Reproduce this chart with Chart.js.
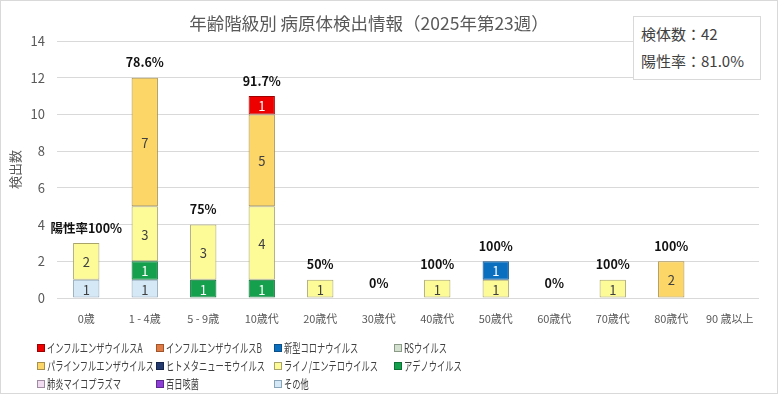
<!DOCTYPE html>
<html lang="ja">
<head>
<meta charset="utf-8">
<script src="https://cdn.jsdelivr.net/npm/chart.js@4"></script>
<style>
  body { margin: 0; background: #fff; }
  #wrap {
    position: relative; width: 776px; height: 392px;
    border: 1px solid #d9d9d9; background: #fff;
    font-family: "Noto Sans CJK JP", "Noto Sans", sans-serif;
  }
  #chart { position: absolute; left: -1px; top: -1px; }
  #title {
    position: absolute; left: 0; width: 736px; top: 9px;
    text-align: center; font-size: 17.5px; color: #595959; white-space: nowrap;
  }
  #info {
    position: absolute; left: 632px; top: 15px; width: 126px; height: 62px;
    border: 1px solid #d9d9d9; color: #404040; font-size: 15px; background: #fff;
  }
  #info div { position: absolute; left: 7px; white-space: nowrap; }
  #legend { position: absolute; left: 0; top: 337px; width: 776px; }
  .item {
    position: absolute; display: flex; align-items: center; white-space: nowrap;
    font-size: 12.5px; color: #404040;
  }
  .item span.txt { display: inline-block; transform: scaleX(0.66); transform-origin: left center; }
  .box { width: 6px; height: 6px; border: 1px solid #7f7f7f; margin-right: 2px; }
</style>
</head>
<body>
<div id="wrap">
  <canvas id="chart" width="778" height="394"></canvas>
  <div id="title">年齢階級別 病原体検出情報（2025年第23週）</div>
  <div id="info"><div style="top:6px">検体数：42</div><div style="top:33px">陽性率：81.0%</div></div>
  <div id="legend"></div>
</div>
<script>
const categories = ['0歳', '1 - 4歳', '5 - 9歳', '10歳代', '20歳代', '30歳代', '40歳代', '50歳代', '60歳代', '70歳代', '80歳代', '90 歳以上'];
const yTicks = [0, 2, 4, 6, 8, 10, 12, 14];
const positiveLabels = ['陽性率100%', '78.6%', '75%', '91.7%', '50%', '0%', '100%', '100%', '0%', '100%', '100%', ''];

// series in legend order
const fluA      = [0, 0, 0, 1, 0, 0, 0, 0, 0, 0, 0, 0];
const fluB      = [0, 0, 0, 0, 0, 0, 0, 0, 0, 0, 0, 0];
const covid     = [0, 0, 0, 0, 0, 0, 0, 1, 0, 0, 0, 0];
const rsv       = [0, 0, 0, 0, 0, 0, 0, 0, 0, 0, 0, 0];
const parainflu = [0, 7, 0, 5, 0, 0, 0, 0, 0, 0, 2, 0];
const hmpv      = [0, 0, 0, 0, 0, 0, 0, 0, 0, 0, 0, 0];
const rhino     = [2, 3, 3, 4, 1, 0, 1, 1, 0, 1, 0, 0];
const adeno     = [0, 1, 1, 1, 0, 0, 0, 0, 0, 0, 0, 0];
const mycoplasma= [0, 0, 0, 0, 0, 0, 0, 0, 0, 0, 0, 0];
const pertussis = [0, 0, 0, 0, 0, 0, 0, 0, 0, 0, 0, 0];
const others    = [1, 1, 0, 0, 0, 0, 0, 0, 0, 0, 0, 0];

const series = [
  { label: 'インフルエンザウイルスA', data: fluA, color: '#ee0000', border: '#a00000', text: '#fff' },
  { label: 'インフルエンザウイルスB', data: fluB, color: '#e07b45', border: '#a0552c', text: '#fff' },
  { label: '新型コロナウイルス', data: covid, color: '#0b6fbf', border: '#0a4f88', text: '#fff' },
  { label: 'RSウイルス', data: rsv, color: '#d3dfcf', border: '#8a9a86', text: '#404040' },
  { label: 'パラインフルエンザウイルス', data: parainflu, color: '#fdd668', border: '#a8904a', text: '#404040' },
  { label: 'ヒトメタニューモウイルス', data: hmpv, color: '#233a6e', border: '#15244a', text: '#fff' },
  { label: 'ライノ/エンテロウイルス', data: rhino, color: '#fdfb98', border: '#a8a46a', text: '#404040' },
  { label: 'アデノウイルス', data: adeno, color: '#14a04c', border: '#0d7035', text: '#fff' },
  { label: '肺炎マイコプラズマ', data: mycoplasma, color: '#f1dcf2', border: '#a08aa2', text: '#404040' },
  { label: '百日咳菌', data: pertussis, color: '#8e3fd6', border: '#5d2890', text: '#fff' },
  { label: 'その他', data: others, color: '#d4e8f6', border: '#8aa4b8', text: '#404040' }
];

// stack bottom-up is the reverse of the legend order
const datasets = series.slice().reverse().map(s => ({
  label: s.label,
  data: s.data.map(v => v === 0 ? null : v),
  backgroundColor: s.color,
  borderColor: s.border,
  borderWidth: 1,
  borderSkipped: false,
  textColor: s.text,
  barPercentage: 0.45,
  categoryPercentage: 1
}));

const labelPlugin = {
  id: 'labels',
  afterDatasetsDraw(chart) {
    const ctx = chart.ctx;
    const y = chart.scales.y;
    ctx.save();
    ctx.textAlign = 'center';
    ctx.textBaseline = 'middle';
    ctx.font = '13px "Noto Sans CJK JP"';
    chart.data.datasets.forEach((ds, i) => {
      const meta = chart.getDatasetMeta(i);
      meta.data.forEach((bar, j) => {
        if (!ds.data[j]) return;
        ctx.fillStyle = ds.textColor;
        ctx.fillText(String(ds.data[j]), bar.x, (bar.y + bar.base) / 2 + 1);
      });
    });
    ctx.font = 'bold 12.5px "Noto Sans CJK JP"';
    ctx.fillStyle = '#111';
    const x = chart.scales.x;
    categories.forEach((c, j) => {
      const total = series.reduce((a, s) => a + s.data[j], 0);
      ctx.fillText(positiveLabels[j], x.getPixelForValue(j), y.getPixelForValue(total) - 15);
    });
    ctx.restore();
  }
};

new Chart(document.getElementById('chart'), {
  type: 'bar',
  data: { labels: categories, datasets },
  options: {
    responsive: false,
    animation: false,
    layout: { padding: { top: 41, right: 19, left: 7, bottom: 0 } },
    plugins: { legend: { display: false }, title: { display: false }, tooltip: { enabled: false } },
    scales: {
      x: {
        stacked: true,
        grid: { display: false },
        border: { display: false },
        ticks: { color: '#595959', font: { size: 11, family: '"Noto Sans CJK JP"' }, padding: 6, maxRotation: 0 },
        afterFit(s) { s.height = 96; }
      },
      y: {
        stacked: true,
        min: 0, max: 14,
        afterBuildTicks(s) { s.ticks = yTicks.map(v => ({ value: v })); },
        grid: { color: '#d9d9d9', drawTicks: false },
        border: { display: false },
        ticks: { color: '#595959', font: { size: 13, family: '"Noto Sans CJK JP"' }, padding: 12 },
        title: { display: true, text: '検出数', color: '#595959', font: { size: 13, family: '"Noto Sans CJK JP"' }, padding: 0 },
        afterFit(s) { s.width = 50; }
      }
    }
  },
  plugins: [labelPlugin]
});

// legend in 4 fixed columns, same order as the reference
const legend = document.getElementById('legend');
const colX = [36, 155, 273, 393];
series.forEach((s, i) => {
  const el = document.createElement('div');
  el.className = 'item';
  el.style.left = colX[i % 4] + 'px';
  el.style.top = (Math.floor(i / 4) * 18) + 'px';
  el.innerHTML = '<span class="box" style="background:' + s.color + ';border-color:' + s.border + '"></span><span class="txt">' + s.label + '</span>';
  legend.appendChild(el);
});
</script>
</body>
</html>
